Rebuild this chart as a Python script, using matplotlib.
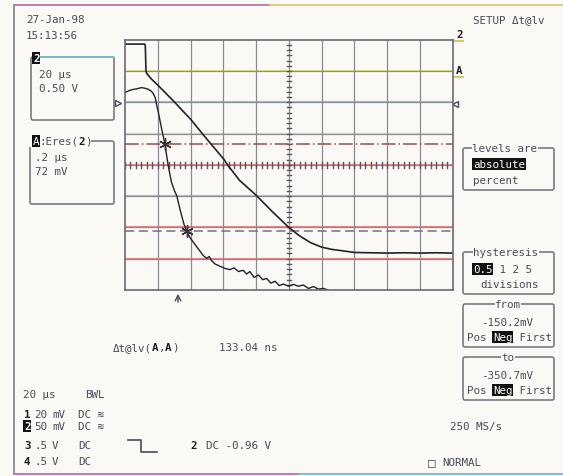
import numpy as np
import matplotlib.pyplot as plt
from matplotlib.patches import FancyBboxPatch

# trace 2 (upper, slow fall) in screen divisions
tr2_x = [0, 0.6, 0.62, 0.64, 0.66, 0.8, 1.0, 1.47, 2.0, 2.5, 3.0, 3.15, 3.5, 4.0, 4.5,
         5.0, 5.3, 5.65, 6.0, 6.3, 6.66, 7.0, 7.5, 8.0, 8.5, 9.0, 9.5, 10.0]
tr2_y = [7.86, 7.86, 7.8, 7.0, 6.93, 6.75, 6.55, 6.05, 5.46, 4.82, 4.2, 3.97, 3.5, 3.03, 2.5,
         2.0, 1.75, 1.52, 1.37, 1.3, 1.25, 1.2, 1.19, 1.18, 1.19, 1.18, 1.19, 1.18]

# trace A = Eres(2) (lower, fast fall)
trA_x = [0, 0.1, 0.2, 0.3, 0.4, 0.5, 0.6, 0.7, 0.8, 0.86, 0.92, 0.97, 1.02, 1.07, 1.12,
         1.17, 1.22, 1.27, 1.32, 1.37, 1.42, 1.5, 1.58, 1.65, 1.73, 1.8, 1.88, 1.98,
         2.09, 2.24, 2.39, 2.49, 2.57, 2.64, 2.75, 2.9, 3.05, 3.2, 3.33, 3.46, 3.61,
         3.71, 3.81, 3.94, 4.07, 4.2, 4.32, 4.45, 4.58, 4.71, 4.83, 4.99, 5.14, 5.29,
         5.44, 5.6, 5.75, 5.9, 6.05, 6.2]
trA_y = [6.31, 6.36, 6.40, 6.42, 6.44, 6.47, 6.45, 6.42, 6.36, 6.28, 6.15, 5.9, 5.67, 5.4, 5.14,
         4.9, 4.66, 4.3, 3.97, 3.7, 3.44, 3.2, 3.01, 2.7, 2.37, 2.1, 1.89, 1.68,
         1.52, 1.31, 1.10, 1.01, 1.07, 0.94, 0.83, 0.76, 0.69, 0.65, 0.71, 0.59, 0.63,
         0.51, 0.59, 0.40, 0.48, 0.33, 0.37, 0.22, 0.28, 0.14, 0.19, 0.12, 0.18, 0.12,
         0.16, 0.05, 0.11, 0.03, 0.05, 0.0]

from_level = 4.66   # -150.2 mV
to_level = 1.89     # -350.7 mV
cross_x = [1.22, 1.88]
cross_y = [from_level, to_level]

W, H = 563, 477
bg = '#fbf9f6'
ink = '#4a4a55'
dark = '#1e1e22'
mono = 'DejaVu Sans Mono'
FS = 7.8
CW = FS * 0.602 * 100 / 72   # advance of one mono char, px

fig = plt.figure(figsize=(W / 100, H / 100), dpi=100)
fig.patch.set_facecolor(bg)

# overlay in pixel coordinates for the screen furniture
ov = fig.add_axes([0, 0, 1, 1])
ov.set_xlim(0, W)
ov.set_ylim(H, 0)
ov.axis('off')


def txt(x, y, s, size=FS, ha='left', hi=False, bold=False, col=ink):
    kw = dict(fontsize=size, family=mono, ha=ha, va='center', color=col,
              fontweight='bold' if bold else 'normal')
    if hi:
        kw['color'] = 'white'
        kw['bbox'] = dict(facecolor='#111', edgecolor='none', pad=0.6)
    ov.text(x, y, s, **kw)


def seq(x, y, parts):
    # parts: (string, style) with style '', 'b' (bold dark) or 'h' (inverted)
    for s, st in parts:
        txt(x, y, s, hi=(st == 'h'), bold=(st == 'b'), col=dark if st == 'b' else ink)
        x += len(s) * CW


def box(x0, y0, x1, y1, col='#7a7a82'):
    ov.add_patch(FancyBboxPatch((x0, y0), x1 - x0, y1 - y0,
                                boxstyle='round,pad=0,rounding_size=2',
                                fill=False, edgecolor=col, lw=1.2))


def titled(x, y, s):
    ov.text(x, y, s, fontsize=FS, family=mono, ha='center', va='center', color=ink,
            bbox=dict(facecolor=bg, edgecolor='none', pad=0.3))


# outer frame
ov.plot([14, 14], [6, 475], color='#8a8a90', lw=1.3)
ov.plot([14, 270], [6, 6], color='#b878b0', lw=1.3)
ov.plot([270, 563], [6, 6], color='#d8d070', lw=1.3)
ov.plot([14, 300], [475, 475], color='#c080b0', lw=1.5)
ov.plot([300, 563], [475, 475], color='#80c0c8', lw=1.5)

# top-left info
txt(26, 20, '27-Jan-98')
txt(26, 36, '15:13:56')
box(31, 58, 114, 121)
ov.plot([40, 114], [58, 58], color='#70c8d0', lw=1.2)
txt(33, 59, '2', hi=True, bold=True)
txt(39, 75, '20 μs')
txt(39, 89, '0.50 V')

box(30, 142, 114, 205)
ov.add_patch(plt.Rectangle((29, 134), 3 + 9 * CW, 14, facecolor=bg, edgecolor='none'))
seq(33, 142, [('A', 'h'), (':Eres(', ''), ('2', 'b'), (')', '')])
txt(35, 158, '.2 μs')
txt(35, 172, '72 mV')

# right panel
txt(473, 20, 'SETUP Δt@lv')
txt(456, 35, '2', bold=True, col=dark)
ov.plot([454, 463], [42, 42], color='#c8c050', lw=1.2)
txt(456, 71, 'A', bold=True, col=dark)
ov.plot([454, 463], [78, 78], color='#c8c050', lw=1.2)
ov.plot([455], [105], marker='<', ms=4, mfc='none', mec=ink, ls='none')
ov.plot([118], [104], marker='>', ms=4, mfc='none', mec=ink, ls='none')

box(463, 149, 554, 191)
titled(505, 149, 'levels are')
txt(473, 165, 'absolute', hi=True)
txt(473, 181, 'percent')

box(463, 253, 554, 295)
titled(506, 253, 'hysteresis')
seq(473, 270, [('0.5', 'h'), (' 1 2 5', '')])
txt(480, 285, 'divisions')

for y0, title, lev in [(305, 'from', '-150.2mV'), (358, 'to', '-350.7mV')]:
    box(463, y0, 554, y0 + 43)
    titled(508, y0, title)
    txt(507, y0 + 18, lev, ha='center')
    seq(467, y0 + 33, [('Pos ', ''), ('Neg', 'h'), (' First', '')])

# bottom info
seq(113, 348, [('Δt@lv(', ''), ('A', 'b'), (',', ''), ('A', 'b'), (')', '')])
txt(219, 348, '133.04 ns')

txt(23, 395, '20 μs')
txt(85, 395, 'BWL')
rows = [('1', '20', 'mV', 'DC ≋'), ('2', '50', 'mV', 'DC ≋'), ('3', '.5', 'V', 'DC'),
        ('4', '.5', 'V', 'DC')]
for i, (ch, v, u, cp) in enumerate(rows):
    y = [415, 427, 446, 462][i]
    txt(24, y, ch, bold=True, col=dark, hi=(ch == '2'))
    txt(34, y, v)
    txt(52, y, u)
    txt(78, y, cp)

ov.plot([128, 141, 141, 157], [441, 441, 453, 453], color=ink, lw=1.2)
txt(190, 446, '2', bold=True, col=dark)
txt(206, 446, 'DC -0.96 V')
txt(450, 427, '250 MS/s')
txt(428, 463, '□', size=9)
txt(442, 463, 'NORMAL')

# scope grid
ax = fig.add_axes([125 / W, 1 - 291 / H, 327.7 / W, 250.3 / H])
ax.set_facecolor('none')
ax.set_xlim(0, 10)
ax.set_ylim(0, 8)
ax.set_xticks([])
ax.set_yticks([])
for s in ax.spines.values():
    s.set_color('#6a6a72')
    s.set_linewidth(1.2)

fringe = ['#8888d8', '#e07070', '#e07070', '#60c8d0', '#e07070', '#d8d060',
          '#60c8d0', '#d8d060', '#e07070']
for k in range(1, 8):
    ax.axhline(k, color='#8a8a90', lw=0.9)
    ax.axhline(k + 0.03, color=fringe[k], lw=0.8, alpha=0.8)
for k in range(1, 10):
    ax.axvline(k, color='#8a8a90', lw=0.9)

for m in np.arange(0, 10, 1 / 6):
    ax.plot([m, m], [3.9, 4.1], color='#555560', lw=1.0)
for m in np.arange(0, 8, 1 / 6):
    ax.plot([4.94, 5.06], [m, m], color='#555560', lw=1.0)

ax.axhline(from_level, color='#905050', lw=1.1, ls=(0, (9, 2, 1, 2)))
ax.axhline(to_level, color='#707088', lw=1.1, ls=(0, (6, 3)))

ax.plot(tr2_x, tr2_y, color='#222228', lw=1.2)
ax.plot(trA_x, trA_y, color='#222228', lw=1.0)
ax.plot(cross_x, cross_y, ls='none', marker=(6, 2, 0), ms=9, mec='#333', mew=1.0)

ov.annotate('', xy=(178, 292), xytext=(178, 306),
            arrowprops=dict(arrowstyle='->', color=ink, lw=1.0))

fig.savefig('out.png', dpi=100, facecolor=bg)
